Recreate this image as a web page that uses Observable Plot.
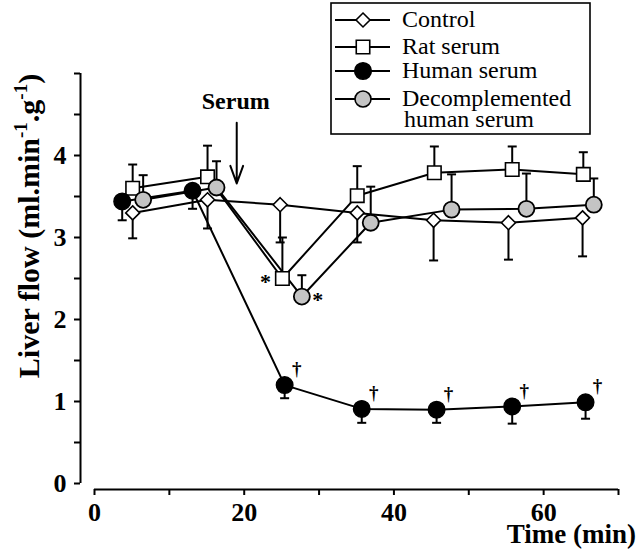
<!DOCTYPE html>
<html>
<head>
<meta charset="utf-8">
<script src="https://cdn.jsdelivr.net/npm/d3@7"></script>
<script src="https://cdn.jsdelivr.net/npm/@observablehq/plot@0.6"></script>
<style>
  html, body { margin: 0; padding: 0; background: #fff; }
  #chart { position: relative; width: 640px; height: 549px; }
</style>
</head>
<body>
<div id="chart"></div>
<script>
// ---- data ----
const seriesNames = ["Control", "Rat serum", "Human serum", "Decomplemented human serum"];

const controlTime = [5.1, 15.1, 24.8, 35.1, 45.3, 55.3, 65.2];
const controlFlow = [3.30, 3.46, 3.40, 3.30, 3.21, 3.18, 3.24];
const controlSem  = [0.31, 0.35, 0.46, 0.36, 0.49, 0.45, 0.47];

const ratTime = [5.1, 15.1, 25.1, 35.1, 45.4, 55.8, 65.3];
const ratFlow = [3.60, 3.74, 2.50, 3.51, 3.79, 3.83, 3.77];
const ratSem  = [0.29, 0.38, 0.50, 0.36, 0.32, 0.28, 0.27];

const humanTime = [3.7, 13.1, 25.4, 35.7, 45.7, 55.8, 65.6];
const humanFlow = [3.44, 3.57, 1.20, 0.91, 0.90, 0.94, 0.99];
const humanSem  = [0.23, 0.22, 0.16, 0.17, 0.16, 0.21, 0.20];

const decompTime = [6.5, 16.3, 27.7, 36.9, 47.7, 57.7, 66.7];
const decompFlow = [3.46, 3.61, 2.28, 3.18, 3.34, 3.35, 3.40];
const decompSem  = [0.30, 0.32, 0.26, 0.44, 0.43, 0.43, 0.32];

// significance markers
const humanDaggerIdx = [2, 3, 4, 5, 6];
const starPoints = [{s: "Rat serum", i: 2, side: "left"}, {s: "Decomplemented human serum", i: 2, side: "right"}];

const xTicks = [0, 10, 20, 30, 40, 50, 60, 70];
const xTickLabels = [0, 20, 40, 60];
const yTicks = [0, 0.5, 1, 1.5, 2, 2.5, 3, 3.5, 4, 4.5, 5];
const yTickLabels = [0, 1, 2, 3, 4];

const serumTime = 19;
const serumArrowFrom = 4.40;
const serumArrowTo = 3.66;
const serumLabelY = 4.66;

// ---- build table ----
function mk(name, t, f, s, dir) {
  return t.map((d, i) => ({series: name, time: d, flow: f[i], sem: s[i], end: f[i] + dir * s[i], i}));
}
const data = [
  ...mk("Control", controlTime, controlFlow, controlSem, -1),
  ...mk("Rat serum", ratTime, ratFlow, ratSem, +1),
  ...mk("Human serum", humanTime, humanFlow, humanSem, -1),
  ...mk("Decomplemented human serum", decompTime, decompFlow, decompSem, +1)
];
const bySeries = name => data.filter(d => d.series === name);

const capSymbol = {
  draw(context, size) {
    const w = 4.5;
    context.moveTo(-w, 0);
    context.lineTo(w, 0);
  }
};

const font = "'Liberation Serif', 'Times New Roman', serif";

const plot = Plot.plot({
  width: 640,
  height: 549,
  marginLeft: 94,
  marginRight: 22,
  marginTop: 73,
  marginBottom: 66,
  style: {fontFamily: font, fontSize: "26px", fontWeight: "bold", background: "#fff", color: "#000"},
  x: {domain: [0, 70], axis: null},
  y: {domain: [0, 5], axis: null},
  marks: [
    // axes
    Plot.ruleX([0], {y1: 0, y2: 5, dx: -14, stroke: "#000", strokeWidth: 2}),
    Plot.axisY(yTicks, {anchor: "left", dx: -14, tickSize: 6, tickPadding: 8, strokeWidth: 2, label: null,
      tickFormat: d => yTickLabels.includes(d) ? String(d) : ""}),
    Plot.ruleY([0], {x1: 0, x2: 70, dy: 6, stroke: "#000", strokeWidth: 2}),
    Plot.axisX(xTicks, {anchor: "bottom", dy: 6, tickSize: 6, tickPadding: 7, strokeWidth: 2, label: null,
      tickFormat: d => xTickLabels.includes(d) ? String(d) : ""}),
    // lines
    Plot.line(data, {x: "time", y: "flow", z: "series", stroke: "#000", strokeWidth: 2}),
    // error bars
    Plot.link(data, {x1: "time", x2: "time", y1: "flow", y2: "end", stroke: "#000", strokeWidth: 2}),
    Plot.dot(data, {x: "time", y: "end", symbol: capSymbol, r: 4, stroke: "#000", strokeWidth: 2, fill: "none"}),
    // markers
    Plot.dot(bySeries("Control"), {x: "time", y: "flow", symbol: "diamond2", r: 6.3, fill: "#fff", stroke: "#000", strokeWidth: 1.6}),
    Plot.dot(bySeries("Rat serum"), {x: "time", y: "flow", symbol: "square", r: 7.6, fill: "#fff", stroke: "#000", strokeWidth: 1.6}),
    Plot.dot(bySeries("Human serum"), {x: "time", y: "flow", r: 8.3, fill: "#000", stroke: "#000", strokeWidth: 1.4}),
    Plot.dot(bySeries("Decomplemented human serum"), {x: "time", y: "flow", r: 8, fill: "#c4c4c4", stroke: "#000", strokeWidth: 1.8}),
    // significance
    Plot.text(bySeries("Human serum").filter(d => humanDaggerIdx.includes(d.i)),
      {x: "time", y: "flow", text: d => "†", dx: 12, dy: -16, fontSize: 19, fontWeight: "bold", fill: "#000"}),
    Plot.text(starPoints.filter(p => p.side === "left").map(p => bySeries(p.s)[p.i]),
      {x: "time", y: "flow", text: d => "*", dx: -17, dy: 3, fontSize: 22}),
    Plot.text(starPoints.filter(p => p.side === "right").map(p => bySeries(p.s)[p.i]),
      {x: "time", y: "flow", text: d => "*", dx: 16, dy: 3, fontSize: 22}),
    // serum annotation
    Plot.arrow([{t: serumTime}], {x1: "t", x2: "t", y1: serumArrowFrom, y2: serumArrowTo, stroke: "#000", strokeWidth: 2, headLength: 14, headAngle: 40}),
    Plot.text([{t: serumTime}], {x: "t", y: serumLabelY, text: d => "Serum", fontSize: 24, fontWeight: "bold", dx: -1})
  ]
});

document.getElementById("chart").appendChild(plot);

// ---- axis titles ----
const svg = d3.select(plot);
const yl = svg.append("text")
  .attr("transform", "translate(39,226) rotate(-90)")
  .attr("text-anchor", "middle")
  .attr("font-family", font)
  .attr("font-weight", "bold")
  .attr("font-size", 30)
  .attr("fill", "#000");
yl.append("tspan").text("Liver flow (ml.min");
yl.append("tspan").attr("dy", -12).attr("font-size", 19).text("-1");
yl.append("tspan").attr("dy", 12).text(".g");
yl.append("tspan").attr("dy", -12).attr("font-size", 19).text("-1");
yl.append("tspan").attr("dy", 12).text(")");

svg.append("text")
  .attr("x", 636).attr("y", 543)
  .attr("text-anchor", "end")
  .attr("font-family", font)
  .attr("font-weight", "bold")
  .attr("font-size", 27)
  .attr("fill", "#000")
  .text("Time (min)");

// ---- legend ----
const lg = svg.append("g").attr("font-family", font).attr("font-weight", "normal").attr("font-size", 24)
  .attr("text-anchor", "start");
lg.append("rect").attr("x", 331).attr("y", 3).attr("width", 259).attr("height", 131)
  .attr("fill", "#fff").attr("stroke", "#000").attr("stroke-width", 1.6);
const legendRows = [
  {lines: [seriesNames[0]], y: 20, sym: d3.symbolDiamond2, r: 6.3, fill: "#fff"},
  {lines: [seriesNames[1]], y: 47, sym: d3.symbolSquare, r: 7.6, fill: "#fff"},
  {lines: [seriesNames[2]], y: 71, sym: d3.symbolCircle, r: 8.3, fill: "#000"},
  {lines: ["Decomplemented", "human serum"], y: 99, sym: d3.symbolCircle, r: 8, fill: "#c4c4c4"}
];
legendRows.forEach(row => {
  lg.append("line").attr("x1", 335).attr("x2", 390).attr("y1", row.y).attr("y2", row.y)
    .attr("stroke", "#000").attr("stroke-width", 2);
  lg.append("path").attr("transform", `translate(363,${row.y})`)
    .attr("d", d3.symbol(row.sym, Math.PI * row.r * row.r)())
    .attr("fill", row.fill).attr("stroke", "#000").attr("stroke-width", 1.6);
  const t = lg.append("text").attr("x", 402).attr("y", row.y + 7).attr("fill", "#000");
  row.lines.forEach((ln, k) => {
    t.append("tspan").attr("x", k === 0 ? 402 : 404).attr("dy", k === 0 ? 0 : 21).text(ln);
  });
});
</script>
</body>
</html>
